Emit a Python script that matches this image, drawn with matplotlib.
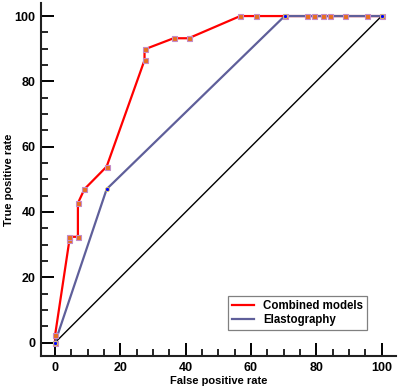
import matplotlib
matplotlib.use('Agg')
import matplotlib.pyplot as plt
from matplotlib.ticker import MultipleLocator

plt.rcParams['font.family'] = ['Liberation Sans', 'DejaVu Sans']

# ROC points
comb_fpr = [0, 0, 4.4, 4.4, 7.0, 7.0, 9.0, 15.8, 27.4, 27.4, 36.3, 40.9, 56.7, 61.4, 70.3,
            77.2, 79.4, 81.9, 84.1, 88.7, 95.4, 100]
comb_tpr = [0, 2.2, 31.4, 32.4, 32.4, 42.7, 47.0, 53.9, 86.5, 89.8, 93.2, 93.2, 100, 100, 100,
            100, 100, 100, 100, 100, 100, 100]
elas_fpr = [0, 15.8, 70.3, 100]
elas_tpr = [0, 47.0, 100, 100]
ticks = [0, 20, 40, 60, 80, 100]

fig = plt.figure(figsize=(4, 3.88), dpi=100)
ax = fig.add_axes([0.1025, 0.0825, 0.8875, 0.9098])

ax.plot([0, 100], [0, 100], color='black', lw=1.0, zorder=1)
l1, = ax.plot(comb_fpr, comb_tpr, color='#ff0000', lw=1.6, zorder=2, label='Combined models')
l2, = ax.plot(elas_fpr, elas_tpr, color='#5f5f9a', lw=1.6, zorder=3, label='Elastography')
ax.plot(comb_fpr, comb_tpr, ls='none', marker='s', ms=3.6, mfc='#e8701e', mec='#c48ac8',
        mew=0.8, zorder=4)
ax.plot(elas_fpr, elas_tpr, ls='none', marker='o', ms=3.0, mfc='#0000ff', mec='#e8d060',
        mew=0.6, zorder=5)

ax.set_xlim(-4.3, 104.4)
ax.set_ylim(-4.1, 104)
ax.set_xticks(ticks)
ax.set_yticks(ticks)
ax.xaxis.set_minor_locator(MultipleLocator(5))
ax.yaxis.set_minor_locator(MultipleLocator(5))
ax.tick_params(which='major', direction='in', length=9.5, width=1.4, labelsize=9, pad=4)
ax.tick_params(which='minor', direction='in', length=4.8, width=1.2)
for lab in ax.get_xticklabels() + ax.get_yticklabels():
    lab.set_fontweight('bold')

for s in ['top', 'right']:
    ax.spines[s].set_visible(False)
for s in ['left', 'bottom']:
    ax.spines[s].set_linewidth(1.5)
    ax.spines[s].set_color('#202020')

ax.set_xlabel('False positive rate', fontsize=8, fontweight='bold', labelpad=2)
ax.set_ylabel('True positive rate', fontsize=8, fontweight='bold', labelpad=0)

leg = ax.legend(handles=[l1, l2], loc='upper left', bbox_to_anchor=(228 / 400, 1 - 296 / 388),
                bbox_transform=fig.transFigure, fancybox=False, edgecolor='#808080',
                framealpha=1, prop={'size': 8.3, 'weight': 'bold'}, handlelength=1.9,
                borderpad=0.35, labelspacing=0.15, handletextpad=0.8, borderaxespad=0)
leg.get_frame().set_linewidth(0.9)

fig.savefig('out.png', dpi=100)
